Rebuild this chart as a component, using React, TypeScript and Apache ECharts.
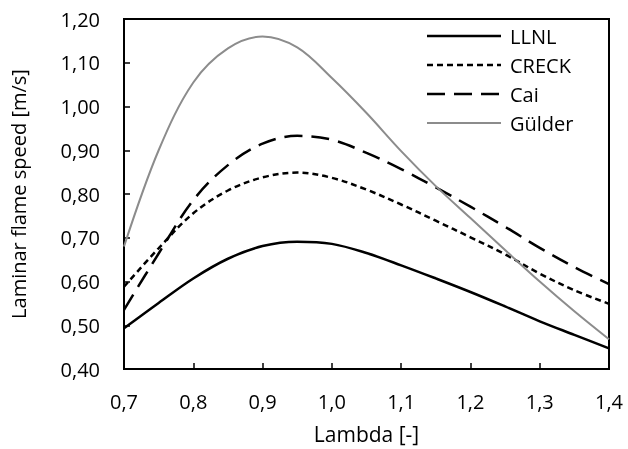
import React, { useEffect, useRef } from "react";
import * as echarts from "echarts";

const lambdaValues = [0.7, 0.75, 0.8, 0.85, 0.9, 0.95, 1.0, 1.05, 1.1, 1.15, 1.2, 1.25, 1.3, 1.35, 1.4];
const llnl = [0.493, 0.551, 0.607, 0.652, 0.681, 0.691, 0.686, 0.665, 0.637, 0.607, 0.576, 0.543, 0.509, 0.478, 0.447];
const creck = [0.588, 0.676, 0.756, 0.808, 0.838, 0.849, 0.837, 0.81, 0.776, 0.739, 0.701, 0.662, 0.618, 0.58, 0.549];
const cai = [0.535, 0.664, 0.786, 0.866, 0.915, 0.933, 0.924, 0.894, 0.857, 0.815, 0.771, 0.725, 0.677, 0.633, 0.594];
const gulder = [0.68, 0.9, 1.055, 1.133, 1.16, 1.135, 1.065, 0.985, 0.898, 0.818, 0.745, 0.672, 0.6, 0.532, 0.468];

const seriesNames = ["LLNL", "CRECK", "Cai", "Gülder"];
const xAxisTitle = "Lambda [-]";
const yAxisTitle = "Laminar flame speed [m/s]";

const FONT = "'Open Sans', 'Noto Sans', sans-serif";

export default function App() {
  const ref = useRef<HTMLDivElement>(null);
  useEffect(() => {
    if (!ref.current) return;
    const chart = echarts.init(ref.current, undefined, { renderer: "svg" });
    const pairs = (ys: number[]) => lambdaValues.map((x, i) => [x, ys[i]]);
    const lineStyles: any[] = [
      { color: "#000", width: 2.5, type: "solid" },
      { color: "#000", width: 2.5, type: [6, 4] },
      { color: "#000", width: 2.5, type: [18, 9] },
      { color: "#8c8c8c", width: 2, type: "solid" },
    ];
    const datas = [llnl, creck, cai, gulder];

    // legend drawn as graphic (line sample + label)
    const legendX0 = 427;
    const legendX1 = 501;
    const legendTop = 36;
    const legendStep = 29;
    const legendItems: any[] = [];
    seriesNames.forEach((name, i) => {
      const y = legendTop + i * legendStep;
      const st = lineStyles[i];
      legendItems.push({
        type: "line",
        shape: { x1: legendX0, y1: y, x2: legendX1, y2: y },
        style: {
          stroke: st.color,
          lineWidth: st.width,
          lineDash: Array.isArray(st.type) ? st.type : null,
        },
        silent: true,
      });
      legendItems.push({
        type: "text",
        x: legendX1 + 9,
        y,
        style: {
          text: name,
          fill: "#000",
          font: `20px ${FONT}`,
          verticalAlign: "middle",
          align: "left",
        },
        silent: true,
      });
    });

    chart.setOption({
      animation: false,
      textStyle: { fontFamily: FONT },
      grid: {
        left: 123,
        right: 19,
        top: 19,
        bottom: 80,
        show: true,
        borderColor: "#000",
        borderWidth: 2,
      },
      graphic: legendItems,
      xAxis: {
        type: "value",
        min: 0.7,
        max: 1.4,
        interval: 0.1,
        name: xAxisTitle,
        nameLocation: "middle",
        nameGap: 54,
        nameTextStyle: { fontFamily: FONT, fontSize: 21, color: "#000" },
        axisLine: { show: true, lineStyle: { color: "#000", width: 2 } },
        axisTick: { show: true, inside: true, length: 6, lineStyle: { color: "#000", width: 1.5 } },
        axisLabel: {
          fontFamily: FONT,
          fontSize: 20,
          color: "#000",
          margin: 22,
          formatter: (v: number) => v.toFixed(1).replace(".", ","),
        },
        splitLine: { show: false },
      },
      yAxis: {
        type: "value",
        min: 0.4,
        max: 1.2,
        interval: 0.1,
        name: yAxisTitle,
        nameLocation: "middle",
        nameGap: 96,
        nameTextStyle: { fontFamily: FONT, fontSize: 20, color: "#000" },
        axisLine: { show: true, lineStyle: { color: "#000", width: 2 } },
        axisTick: { show: true, inside: true, length: 6, lineStyle: { color: "#000", width: 1.5 } },
        axisLabel: {
          fontFamily: FONT,
          fontSize: 20,
          color: "#000",
          margin: 24,
          formatter: (v: number) => v.toFixed(2).replace(".", ","),
        },
        splitLine: { show: false },
      },
      series: seriesNames.map((name, i) => ({
        name,
        type: "line",
        smooth: 0.35,
        symbol: "none",
        showSymbol: false,
        lineStyle: lineStyles[i],
        itemStyle: { color: lineStyles[i].color },
        data: pairs(datas[i]),
      })),
    });
    return () => chart.dispose();
  }, []);
  return <div ref={ref} style={{ position: "fixed", left: 0, top: 0, width: 628, height: 449 }} />;
}
